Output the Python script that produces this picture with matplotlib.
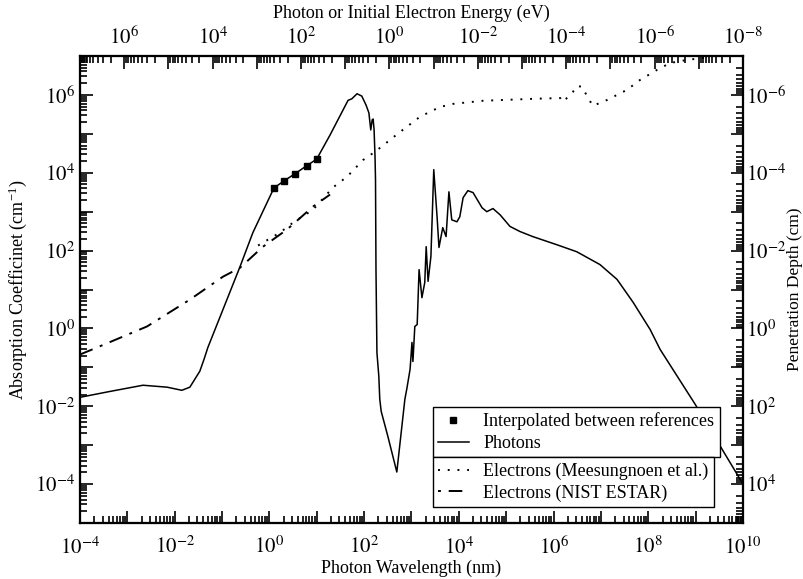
import numpy as np
import matplotlib
matplotlib.use("Agg")
import matplotlib.pyplot as plt
from matplotlib.ticker import LogLocator, FuncFormatter, NullFormatter
from matplotlib.lines import Line2D

plt.rcParams['font.family'] = ['Liberation Serif', 'DejaVu Serif']
plt.rcParams['mathtext.fontset'] = 'stix'

# photon absorption coefficient, log10(wavelength nm) vs log10(alpha cm^-1)
photon_lwl = [-4.0, -3.37, -2.67, -2.16, -1.85, -1.68, -1.47, -1.38, -1.30, -0.62, -0.35,
              0.096, 0.314, 0.546, 0.787, 0.998,
              1.28, 1.66, 1.74, 1.85, 1.95, 2.04, 2.10, 2.14, 2.17, 2.19, 2.21, 2.23, 2.24,
              2.25, 2.27, 2.31, 2.33, 2.36, 2.50, 2.69,
              2.86, 2.90, 2.97, 3.01, 3.03, 3.07, 3.12, 3.16, 3.22, 3.28, 3.31, 3.35, 3.41,
              3.47, 3.54, 3.58, 3.66, 3.73, 3.79, 3.85, 3.96, 4.02, 4.09, 4.19, 4.30, 4.49,
              4.59, 4.72, 4.87, 5.08, 5.29, 5.56, 6.07, 6.49, 6.98, 7.34, 7.68, 8.04, 8.25,
              8.99, 9.62, 10.0]
photon_la = [-1.77, -1.62, -1.46, -1.51, -1.59, -1.51, -1.10, -0.79, -0.49, 1.59, 2.46,
             3.61, 3.795, 3.98, 4.18, 4.35,
             4.97, 5.86, 5.90, 6.03, 5.97, 5.74, 5.54, 5.10, 5.36, 5.38, 5.10, 4.41, 3.82,
             1.51, -0.62, -1.23, -1.82, -2.13, -2.77, -3.69,
             -1.82, -1.56, -1.05, -0.36, -0.85, 0.05, 0.10, 1.51, 0.79, 1.18, 2.10, 1.21, 1.85,
             4.08, 2.87, 2.08, 2.59, 2.36, 3.51, 2.79, 2.74, 2.87, 3.36, 3.54, 3.49, 3.10,
             3.00, 3.08, 2.92, 2.62, 2.49, 2.36, 2.15, 1.97, 1.64, 1.26, 0.67, -0.03, -0.54,
             -1.95, -3.23, -4.0]

# points interpolated between references
interp_lwl = [0.096, 0.314, 0.546, 0.787, 0.998]
interp_la = [3.61, 3.795, 3.98, 4.18, 4.35]

# electrons, Meesungnoen et al.
mees_lwl = [-0.24, 0.22, 0.50, 0.92, 1.34, 1.64, 1.98, 2.23, 2.76, 3.18, 3.60, 3.88, 4.51,
            5.57, 6.14, 6.20, 6.41, 6.49, 6.60, 6.73, 6.83, 7.13, 7.55, 7.82, 8.18, 8.46,
            8.82, 9.30]
mees_la = [2.13, 2.46, 2.72, 3.05, 3.62, 3.90, 4.33, 4.54, 5.05, 5.44, 5.69, 5.77, 5.85,
           5.90, 5.92, 5.82, 6.08, 6.23, 6.21, 5.92, 5.72, 5.87, 6.13, 6.38, 6.64, 6.82,
           6.90, 6.97]

# electrons, NIST ESTAR
estar_lwl = [-4.0, -3.64, -2.585, -1.68, -0.98, -0.62, -0.136, 0.37, 0.92, 1.28]
estar_la = [-0.67, -0.49, 0.05, 0.74, 1.33, 1.56, 2.10, 2.54, 3.13, 3.44]


def even_pow(v, pos):
    e = int(round(np.log10(v)))
    if e % 2:
        return ''
    return r'$10^{%d}$' % e


fig = plt.figure(figsize=(8.04, 5.79), dpi=100)
ax = fig.add_axes([80 / 804, 56 / 579, 663 / 804, 467 / 579])

ax.plot(10 ** np.array(photon_lwl), 10 ** np.array(photon_la), 'k-', lw=1.1)
ax.plot(10 ** np.array(mees_lwl), 10 ** np.array(mees_la), color='k', ls=(0, (1, 4)), lw=1.4)
ax.plot(10 ** np.array(estar_lwl), 10 ** np.array(estar_la), color='k',
        ls=(0, (7, 4, 1.5, 4)), lw=1.4)
ax.plot(10 ** np.array(interp_lwl), 10 ** np.array(interp_la), 'ks', ms=4.5)

ax.set_xscale('log')
ax.set_yscale('log')
ax.set_xlim(1e-4, 1e10)
ax.set_ylim(1e-5, 1e7)

# top axis: energy, right axis: penetration depth
top = ax.twiny()
top.set_xscale('log')
top.set_xlim(1e7, 1e-8)
right = ax.twinx()
right.set_yscale('log')
right.set_ylim(1e5, 1e-7)

for a, which in [(ax, 'x'), (ax, 'y'), (top, 'x'), (right, 'y')]:
    axis = a.xaxis if which == 'x' else a.yaxis
    axis.set_major_locator(LogLocator(base=10, numticks=30))
    axis.set_minor_locator(LogLocator(base=10, subs=np.arange(2, 10), numticks=30))
    axis.set_major_formatter(FuncFormatter(even_pow))
    axis.set_minor_formatter(NullFormatter())

ax.tick_params(which='both', direction='in', top=False, right=False, labelsize=15, width=1.2)
top.tick_params(which='both', direction='in', labelsize=15, width=1.2)
right.tick_params(which='both', direction='in', labelsize=15, width=1.2)
for a in (ax, top, right):
    a.tick_params(which='major', length=9)
    a.tick_params(which='minor', length=5)
    for s in a.spines.values():
        s.set_linewidth(1.5)
ax.tick_params(axis='x', pad=10)
top.tick_params(axis='x', pad=5)
right.tick_params(axis='y', pad=2)

ax.set_xlabel('Photon Wavelength (nm)', fontsize=13, labelpad=0)
ax.set_ylabel(r'Absorption Coefficinet (cm$^{\mathregular{-1}}$)', fontsize=13, labelpad=4)
top.set_xlabel('Photon or Initial Electron Energy (eV)', fontsize=13, labelpad=6)
right.set_ylabel('Penetration Depth (cm)', fontsize=12.5)
right.yaxis.set_label_coords(1.066, 0.5)

# two stacked legend boxes
h_top = [Line2D([], [], color='k', marker='s', ls='none', ms=4.5),
         Line2D([], [], color='k', lw=1.1)]
h_bot = [Line2D([], [], color='k', ls=(0, (1, 4)), lw=1.4),
         Line2D([], [], color='k', ls=(0, (1.5, 4, 7, 4)), lw=1.4)]
leg_kw = dict(loc='upper left', fontsize=13, frameon=True, fancybox=False,
              edgecolor='k', framealpha=1, borderaxespad=0, handlelength=1.7,
              borderpad=0.3, labelspacing=0.25, handletextpad=0.8)
leg1 = right.legend(h_top, ['Interpolated between references', 'Photons'],
                    bbox_to_anchor=(0.532, 0.248), **leg_kw)
right.add_artist(leg1)
leg2 = right.legend(h_bot, ['Electrons (Meesungnoen et al.)', 'Electrons (NIST ESTAR)'],
                    bbox_to_anchor=(0.532, 0.141), **leg_kw)
for lg in (leg1, leg2):
    lg.get_frame().set_linewidth(1.0)

fig.savefig('out.png', dpi=100)
